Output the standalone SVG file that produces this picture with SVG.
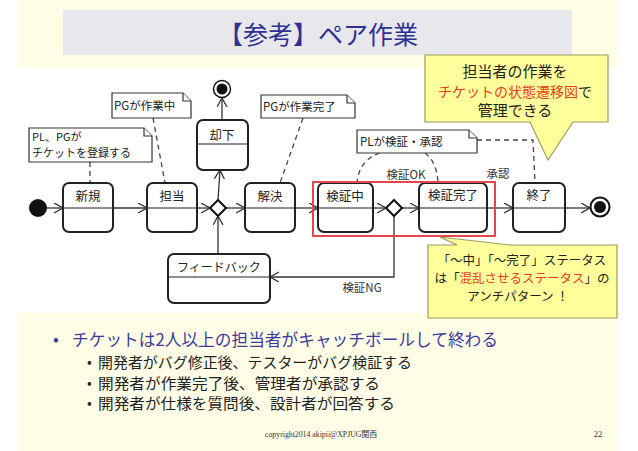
<svg xmlns="http://www.w3.org/2000/svg" width="638" height="451" viewBox="0 0 638 451">
<defs>
<style>
.jp{font-family:"Noto Sans CJK JP","Noto Sans",sans-serif;}
.st{fill:#fff;stroke:#222;stroke-width:2;}
.dv{stroke:#222;stroke-width:1.2;}
.nm{font-size:12.5px;fill:#222;text-anchor:middle;}
.note{fill:#fff;stroke:#333;stroke-width:1.2;}
.nt{font-size:11.5px;fill:#222;}
.ln{fill:none;stroke:#333;stroke-width:1.3;}
.dash{fill:none;stroke:#444;stroke-width:1.3;stroke-dasharray:5,4;}
.lb{font-size:11.5px;fill:#333;text-anchor:middle;}
.call{fill:#FFFF9C;stroke:#9C9C5A;stroke-width:1.2;}
.ct{fill:#222;text-anchor:middle;}
.c1{font-size:15px;}
.c2{font-size:12.5px;}
.red{fill:#E83C1E;}
</style>
<marker id="arr" markerUnits="userSpaceOnUse" markerWidth="12" markerHeight="12" refX="9" refY="5" orient="auto">
<path d="M0,0 L9,5 L0,10" fill="none" stroke="#333" stroke-width="1.3"/>
</marker>
</defs>

<!-- slide background -->
<rect x="0" y="0" width="638" height="451" fill="#fff"/>
<rect x="18" y="0" width="599" height="68" fill="#FFFDE6"/>
<rect x="18" y="313" width="599" height="138" fill="#FFFDE6"/>
<g id="title">
<rect x="63" y="10" width="509" height="45" fill="#E7E7EC"/>
<text x="318" y="44" class="jp" font-size="25" fill="#2E3192" text-anchor="middle">【参考】ペア作業</text>
</g>

<!-- connectors -->
<g id="connectors">
<line class="ln" x1="47" y1="208" x2="63" y2="208" marker-end="url(#arr)"/>
<line class="ln" x1="113" y1="208" x2="147" y2="208" marker-end="url(#arr)"/>
<line class="ln" x1="197" y1="208" x2="210" y2="208" marker-end="url(#arr)"/>
<line class="ln" x1="226" y1="208" x2="245" y2="208" marker-end="url(#arr)"/>
<line class="ln" x1="218" y1="200" x2="220" y2="170" marker-end="url(#arr)"/>
<line class="ln" x1="222" y1="120" x2="222" y2="98" marker-end="url(#arr)"/>
<line class="ln" x1="295" y1="208" x2="318" y2="208" marker-end="url(#arr)"/>
<line class="ln" x1="373" y1="208" x2="386" y2="208" marker-end="url(#arr)"/>
<line class="ln" x1="402" y1="208" x2="419" y2="208" marker-end="url(#arr)"/>
<line class="ln" x1="487" y1="208" x2="513" y2="208" marker-end="url(#arr)"/>
<line class="ln" x1="565" y1="208" x2="590" y2="208" marker-end="url(#arr)"/>
<polyline class="ln" points="394,216 394,277 270,277" marker-end="url(#arr)"/>
<line class="ln" x1="218" y1="254" x2="218" y2="216" marker-end="url(#arr)"/>
<!-- note anchors -->
<line class="dash" x1="90" y1="162" x2="90" y2="183"/>
<line class="dash" x1="153" y1="118" x2="165" y2="183"/>
<line class="dash" x1="303" y1="118" x2="280" y2="183"/>
<path class="dash" d="M380,153 Q359,160 357,183"/>
<path class="dash" d="M425,153 Q437,162 438,183"/>
<polyline class="dash" points="477,140 533,140 535,183"/>
<text class="jp lb" x="406" y="179">検証OK</text>
<text class="jp lb" x="498" y="178">承認</text>
<text class="jp lb" x="362" y="292">検証NG</text>
</g>

<!-- pseudo states -->
<g id="initial"><circle cx="38" cy="208" r="9" fill="#111"/></g>
<g id="final1"><circle cx="222" cy="89" r="8.5" fill="#fff" stroke="#111" stroke-width="1.5"/><circle cx="222" cy="89" r="5.5" fill="#111"/></g>
<g id="final2"><circle cx="600" cy="207" r="9.5" fill="#fff" stroke="#111" stroke-width="2"/><circle cx="600" cy="207" r="6" fill="#111"/></g>
<g id="choice1"><polygon points="218,200 226,208 218,216 210,208" fill="#fff" stroke="#111" stroke-width="2"/></g>
<g id="choice2"><polygon points="394,200 402,208 394,216 386,208" fill="#fff" stroke="#111" stroke-width="2"/></g>

<!-- states -->
<g id="s-shinki"><rect class="st" x="63" y="183" width="50" height="49" rx="6"/><line class="dv" x1="63" y1="208" x2="113" y2="208"/><text class="jp nm" x="88" y="201">新規</text></g>
<g id="s-tantou"><rect class="st" x="147" y="183" width="50" height="49" rx="6"/><line class="dv" x1="147" y1="208" x2="197" y2="208"/><text class="jp nm" x="172" y="201">担当</text></g>
<g id="s-kyakka"><rect class="st" x="197" y="120" width="51" height="50" rx="6"/><line class="dv" x1="197" y1="144" x2="248" y2="144"/><text class="jp nm" x="222" y="140">却下</text></g>
<g id="s-kaiketsu"><rect class="st" x="245" y="183" width="50" height="49" rx="6"/><line class="dv" x1="245" y1="208" x2="295" y2="208"/><text class="jp nm" x="270" y="201">解決</text></g>
<g id="s-kenshochu"><rect class="st" x="318" y="183" width="55" height="49" rx="6"/><line class="dv" x1="318" y1="208" x2="373" y2="208"/><text class="jp nm" x="345" y="201">検証中</text></g>
<g id="s-kenshokanryo"><rect class="st" x="419" y="183" width="68" height="49" rx="6"/><line class="dv" x1="419" y1="208" x2="487" y2="208"/><text class="jp nm" x="453" y="200">検証完了</text></g>
<g id="s-shuryo"><rect class="st" x="513" y="183" width="52" height="49" rx="6"/><line class="dv" x1="513" y1="208" x2="565" y2="208"/><text class="jp nm" x="539" y="200">終了</text></g>
<g id="s-feedback"><rect class="st" x="168" y="254" width="102" height="49" rx="6"/><line class="dv" x1="168" y1="277" x2="270" y2="277"/><text class="jp nm" x="219" y="272" style="font-size:12px">フィードバック</text></g>

<!-- highlight -->
<g id="highlight"><rect x="313" y="182" width="182" height="54" fill="none" stroke="#E2474F" stroke-width="2"/></g>

<!-- notes -->
<g id="note-a"><path class="note" d="M29,128 H144 L152,136 V162 H29 Z"/><path class="note" d="M144,128 V136 H152" fill="none"/>
<text class="jp nt" x="32" y="141" style="font-size:11px">PL、PGが</text><text class="jp nt" x="32" y="157" style="font-size:11px">チケットを登録する</text></g>
<g id="note-b"><path class="note" d="M112,93 H183 L191,101 V118 H112 Z"/><path class="note" d="M183,93 V101 H191" fill="none"/>
<text class="jp nt" x="114" y="110">PGが作業中</text></g>
<g id="note-c"><path class="note" d="M261,95 H347 L355,103 V118 H261 Z"/><path class="note" d="M347,95 V103 H355" fill="none"/>
<text class="jp nt" x="263" y="111">PGが作業完了</text></g>
<g id="note-d"><path class="note" d="M357,130 H469 L477,138 V153 H357 Z"/><path class="note" d="M469,130 V138 H477" fill="none"/>
<text class="jp nt" x="360" y="146">PLが検証・承認</text></g>

<!-- callouts -->
<g id="callout1">
<path class="call" d="M425,55 H608 V122 H573 L548,160 L530,122 H425 Z"/>
<text class="jp ct c1" x="515" y="77">担当者の作業を</text>
<text class="jp ct" x="515" y="97" style="font-size:14px"><tspan class="red">チケットの状態遷移図</tspan>で</text>
<text class="jp ct c1" x="515" y="116">管理できる</text>
</g>
<g id="callout2">
<path class="call" d="M428,245 H457 L440,237 L510,245 H617 V318 H428 Z"/>
<text class="jp ct c2" x="522" y="265">「～中」「～完了」ステータス</text>
<text class="jp ct c2" x="522" y="283">は「<tspan class="red">混乱させるステータス</tspan>」の</text>
<text class="jp ct c2" x="518" y="301">アンチパターン ！</text>
</g>

<!-- bullets -->
<g id="bullets">
<text x="53" y="345" class="jp" font-size="17" fill="#3B3B9E">•</text>
<text x="72" y="346" class="jp" font-size="17" fill="#3B3B9E" textLength="426" lengthAdjust="spacingAndGlyphs">チケットは2人以上の担当者がキャッチボールして終わる</text>
<text x="87" y="367" class="jp" font-size="14" fill="#222">•</text>
<text x="98" y="368" class="jp" font-size="15" fill="#222" textLength="314" lengthAdjust="spacingAndGlyphs">開発者がバグ修正後、テスターがバグ検証する</text>
<text x="87" y="388" class="jp" font-size="14" fill="#222">•</text>
<text x="98" y="389" class="jp" font-size="15" fill="#222" textLength="282" lengthAdjust="spacingAndGlyphs">開発者が作業完了後、管理者が承認する</text>
<text x="87" y="408" class="jp" font-size="14" fill="#222">•</text>
<text x="98" y="409" class="jp" font-size="15" fill="#222" textLength="297" lengthAdjust="spacingAndGlyphs">開発者が仕様を質問後、設計者が回答する</text>
</g>
<g id="footer">
<text x="321" y="437" font-family="'Liberation Serif','Noto Sans CJK JP',serif" font-size="8.5" fill="#333" text-anchor="middle" textLength="112" lengthAdjust="spacingAndGlyphs">copyright2014 akipii@XPJUG関西</text>
<text x="598" y="437" font-family="'Liberation Serif',serif" font-size="8.5" fill="#333" text-anchor="middle">22</text>
</g>
</svg>
